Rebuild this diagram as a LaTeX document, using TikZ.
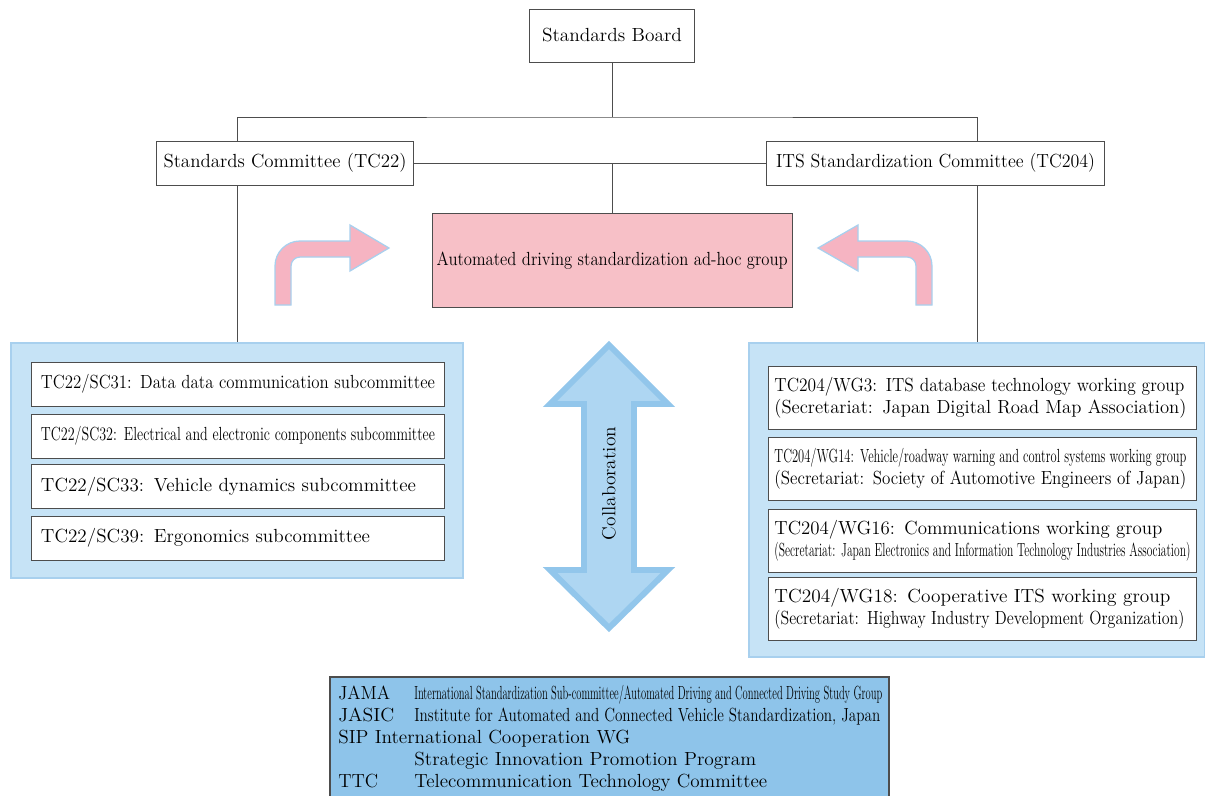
\documentclass[tikz,border=0pt]{standalone}
\usepackage{graphicx}
\newdimen\pxunit
\pxunit=0.025cm
% squeeze a text to a width given in pixels
\newcommand{\fitto}[2]{\resizebox{#1\pxunit}{\height}{#2}}
\definecolor{boxgray}{HTML}{4D4D4D}
\definecolor{panelblue}{HTML}{C6E3F6}
\definecolor{panelline}{HTML}{A8D0EE}
\definecolor{keyblue}{HTML}{8EC4EA}
\definecolor{adhocpink}{HTML}{F7C0C7}
\definecolor{turnpink}{HTML}{F6B4C2}
\definecolor{collabfill}{HTML}{AED6F2}
\definecolor{collabline}{HTML}{92C6EB}
\begin{document}
\begin{tikzpicture}[x=0.025cm, y=-0.025cm, font=\fontsize{13.5}{15.65}\selectfont,
  orgbox/.style={draw=boxgray, line width=0.7pt, fill=white, inner sep=0pt},
  panel/.style={draw=panelline, line width=1.2pt, fill=panelblue, inner sep=0pt},
  subbox/.style={orgbox, minimum width=10.3cm, minimum height=1.1cm, text width=9.85cm, inner xsep=0.225cm, align=left},
  wgbox/.style={orgbox, minimum width=10.675cm, minimum height=1.575cm, text width=10.4cm, inner xsep=0.1375cm, align=left},
  link/.style={draw=boxgray, line width=0.7pt},
  turn/.style={fill=turnpink, draw=panelline, line width=0.9pt}]
  \useasboundingbox (0,0) rectangle (1205,796);

  % top of the tree
  \node[orgbox, minimum width=4.1cm, minimum height=1.325cm] (board) at (612,35.5) {\fitto{140}{Standards Board}};
  \node[orgbox, minimum width=6.4cm, minimum height=1.1cm] (sc) at (285,163) {\fitto{243}{Standards Committee (TC22)}};
  \node[orgbox, minimum width=8.425cm, minimum height=1.1cm] (its) at (935.5,163) {\fitto{319}{ITS Standardization Committee (TC204)}};
  \node[orgbox, fill=adhocpink, minimum width=8.99cm, minimum height=2.325cm] (adhoc) at (612.25,260.5) {\fitto{351}{Automated driving standardization ad-hoc group}};
  \coordinate (bus) at (612,117);

  % blue panels
  \node[panel, minimum width=11.3cm, minimum height=5.875cm] (tcpanel) at (237,460.5) {};
  \node[panel, minimum width=11.4cm, minimum height=7.85cm] (itspanel) at (977,500) {};

  % subcommittees
  \node[subbox] (sc31) at (238,384) {\fitto{394}{TC22/SC31: Data data communication subcommittee}};
  \node[subbox] (sc32) at (238,436) {\fitto{394}{TC22/SC32: Electrical and electronic components subcommittee}};
  \node[subbox] (sc33) at (238,486.5) {\fitto{375}{TC22/SC33: Vehicle dynamics subcommittee}};
  \node[subbox] (sc39) at (238,538) {\fitto{329}{TC22/SC39: Ergonomics subcommittee}};

  % working groups
  \node[wgbox] (wg3) at (982.5,398) {\fitto{410}{TC204/WG3: ITS database technology working group}\\\fitto{412}{(Secretariat: Japan Digital Road Map Association)}};
  \node[wgbox] (wg14) at (982.5,468.5) {\fitto{412}{TC204/WG14: Vehicle/roadway warning and control systems working group}\\\fitto{412}{(Secretariat: Society of Automotive Engineers of Japan)}};
  \node[wgbox] (wg16) at (982.5,540.5) {\fitto{388}{TC204/WG16: Communications working group}\\\fitto{416}{(Secretariat: Japan Electronics and Information Technology Industries Association)}};
  \node[wgbox] (wg18) at (982.5,609) {\fitto{396}{TC204/WG18: Cooperative ITS working group}\\\fitto{410}{(Secretariat: Highway Industry Development Organization)}};

  % key of abbreviations
  \node[draw=boxgray, line width=1pt, fill=keyblue, minimum width=13.975cm, minimum height=3.3cm, inner sep=0pt] (key) at (609.5,743) {};
  \node[anchor=base west, inner sep=0pt] (keytext) at (338,699.5) {\begin{tabular}[t]{@{}p{1.9cm}@{}l@{}}
    \fitto{52}{JAMA} & \fitto{468}{International Standardization Sub-committee/Automated Driving and Connected Driving Study Group}\\
    \fitto{56}{JASIC} & \fitto{466}{Institute for Automated and Connected Vehicle Standardization, Japan}\\
    \multicolumn{2}{@{}l@{}}{\fitto{292}{SIP International Cooperation WG}}\\
    & \fitto{342}{Strategic Innovation Promotion Program}\\
    \fitto{40}{TTC} & \fitto{353}{Telecommunication Technology Committee}
  \end{tabular}};

  % turn arrows
  \draw[turn] (275,305) -- (275,266) arc(180:270:25) -- (350,241) -- (350,225) -- (389,248) -- (350,271) -- (350,257) -- (300,257) arc(270:180:9) -- (291,305) -- cycle;
  \draw[turn] (932,305) -- (932,266) arc(0:-90:25) -- (858,241) -- (858,225) -- (818,248) -- (858,271) -- (858,257) -- (907,257) arc(270:360:9) -- (916,305) -- cycle;

  % collaboration arrow
  \draw[fill=collabfill, draw=collabline, line width=4.2pt] (609,345) -- (668,404) -- (634,404) -- (634,570) -- (668,570) -- (609,628) -- (550,570) -- (584,570) -- (584,404) -- (550,404) -- cycle;
  \node[rotate=90, inner sep=0pt] (collab) at (609,483.5) {\fitto{113}{Collaboration}};

  % connectors
  \draw[link] (board.south) -- (bus);
  \draw[link] (sc.north -| tcpanel.north) |- (bus) -| (its.north -| itspanel.north);
  \draw[link] (sc.south -| tcpanel.north) -- (tcpanel.north);
  \draw[link] (its.south -| itspanel.north) -- (itspanel.north);
  \draw[link] (sc.east) -- (its.west);
  \draw[link] (adhoc.north) -- (adhoc.north |- sc.east);
\end{tikzpicture}
\end{document}
